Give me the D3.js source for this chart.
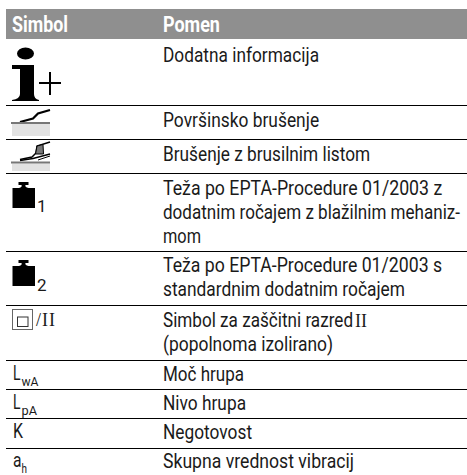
<!DOCTYPE html>
<html><head><meta charset="utf-8">
<script src="https://cdn.jsdelivr.net/npm/d3@7/dist/d3.min.js"></script>
<style>html,body{margin:0;padding:0;background:#fff}svg{display:block}</style></head>
<body><svg id="c" width="467" height="475"></svg>
<script>
const headers = ["Simbol","Pomen"];
const headerWidths = [56,57];
const meanings = [
 ["Dodatna informacija"],
 ["Površinsko brušenje"],
 ["Brušenje z brusilnim listom"],
 ["Teža po EPTA-Procedure 01/2003 z","dodatnim ročajem z blažilnim mehaniz-","mom"],
 ["Teža po EPTA-Procedure 01/2003 s","standardnim dodatnim ročajem"],
 ["Simbol za zaščitni razred","(popolnoma izolirano)"],
 ["Moč hrupa"],["Nivo hrupa"],["Negotovost"],["Skupna vrednost vibracij"]
];
const lineWidths = [[156],[156],[207],[279,297,38],[279,242],[190,170],[81],[83],[89],[191]];
const codes = [["L","wA"],["L","pA"],["K",""],["a","h"]];
const codeWidths = [[7.5,17],[7.5,15.5],[10,0],[8.5,5.5]];
const rowLines = [105,139,173,251,305,360,389,418,448];
const baselines = [61.5,126.5,160.5,194.5,271.5,326.5,380.5,409.5,438.5,467.5];

const svg = d3.select("#c");
const F = "Roboto, sans-serif";
function fit(e,x,y,w){ // squeeze a text to its measured width in the reference
  const s = w ? w/e.node().getComputedTextLength() : 1;
  return e.attr("transform",`translate(${x},${y}) scale(${s},1)`);
}
svg.append("rect").attr("x",6).attr("y",9).attr("width",461).attr("height",30).attr("fill","#8f8f8f");
headers.forEach((h,i)=>fit(svg.append("text").attr("fill","#fff").attr("font-family",F)
  .attr("font-weight",700).attr("font-size",21.5).text(h),i?163:12,32,headerWidths[i]));
svg.selectAll("line.r").data(rowLines).join("line").attr("class","r")
  .attr("x1",6).attr("x2",467).attr("y1",d=>d+.5).attr("y2",d=>d+.5).attr("stroke","#000").attr("stroke-width",1.2);
function put(x,y,t,fs,w){return fit(svg.append("text").attr("font-family",F).attr("font-size",fs).attr("fill","#1a1a1a").text(t),x,y,w);}
function draw(){
meanings.forEach((ls,i)=>ls.forEach((t,j)=>put(163,baselines[i]+j*24,t,19.3,lineWidths[i][j])));
svg.append("text").attr("x",355).attr("y",baselines[5]).attr("font-family","Liberation Serif").attr("font-size",18).attr("fill","#1a1a1a").text("II");

const sym=svg.append("g").attr("fill","#000");
function weight(y){sym.append("path").attr("d",`M12.5 ${y+6}H35V${y+26}H12.5Z M19 ${y+6}Q22.5 ${y+5} 21.5 ${y+3}H18.5V${y}H28.5V${y+3}H25.5Q24.5 ${y+5} 28.5 ${y+6}Z`);}
// info
sym.append("ellipse").attr("cx",25.5).attr("cy",53.5).attr("rx",8.5).attr("ry",6);
sym.append("path").attr("d","M12 65H34V94Q34 99 39 100V101H12V100Q20 99 20 94V69H12Z");
sym.append("path").attr("d","M39 83H61M50 72V95").attr("stroke","#000").attr("stroke-width",2).attr("fill","none");
// surface & sheet symbols
function base(y,h){svg.append("rect").attr("x",12).attr("y",y).attr("width",38).attr("height",h).attr("fill","#e2e2e2");
 svg.append("rect").attr("x",11).attr("y",y-2).attr("width",39).attr("height",2).attr("fill","#777");}
base(124,12);
sym.append("path").attr("d","M20 122L33 118.5L38 113.5L50 110").attr("stroke","#000").attr("stroke-width",2.2).attr("fill","none");
base(163.5,7.5);
svg.append("path").attr("d","M35.5 154L37 146L43 144.5L43.5 154Z").attr("fill","#777").attr("stroke","#000");
sym.append("path").attr("d","M20 159.5L32 157L36 153L37 146L50 142").attr("stroke","#000").attr("stroke-width",1.5).attr("fill","none");
sym.append("path").attr("d","M20 160.5L33 158.5L50 154").attr("stroke","#000").attr("stroke-width",1.5).attr("fill","none");
sym.append("path").attr("d","M38 160L50 156").attr("stroke","#000").attr("stroke-width",1).attr("fill","none");
weight(182); put(37,212,"1",17);
weight(260); put(37,291,"2",17);
// class II
svg.append("rect").attr("x",12.5).attr("y",309.5).attr("width",20).attr("height",20).attr("fill","#fff").attr("stroke","#666");
svg.append("rect").attr("x",17.5).attr("y",317).attr("width",10.5).attr("height",9.5).attr("fill","none").attr("stroke","#333");
svg.append("text").attr("x",36).attr("y",326).attr("font-family","Liberation Serif").attr("font-size",18).attr("letter-spacing",1).attr("fill","#1a1a1a").text("/II");
codes.forEach((c,i)=>{const y=baselines[6+i]-.5;
  put(13,y,c[0],19.3,codeWidths[i][0]);
  if(c[1]) put(21.5,y+6,c[1],12.5,codeWidths[i][1]);});
}
draw();
</script></body></html>
